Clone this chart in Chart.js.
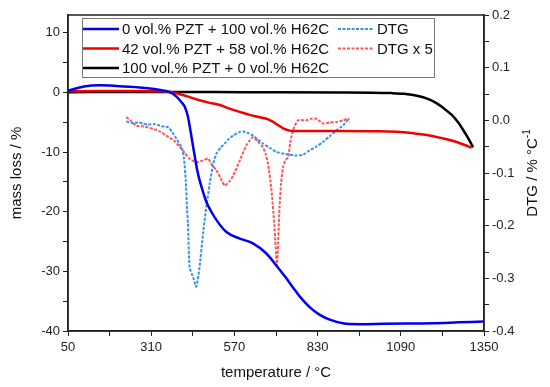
<!DOCTYPE html>
<html>
<head>
<meta charset="utf-8">
<script src="https://cdn.jsdelivr.net/npm/chart.js@4"></script>
<style>
  html, body { margin: 0; padding: 0; background: #fff; }
  #wrap { width: 550px; height: 387px; }
</style>
</head>
<body>
<div id="wrap"><canvas id="tgaChart" width="550" height="387"></canvas></div>
<script>
// mass loss curves (left axis, %)
const tempPzt0 = [50, 100, 149, 200, 274, 330, 368, 389, 404, 415, 425, 433, 441, 456, 467, 482, 498, 514, 545, 587, 628, 670, 701, 730, 753, 774, 805, 837, 868, 909, 960, 1034, 1110, 1190, 1270, 1350];
const massPzt0 = [0.3, 1.0, 1.2, 1.1, 0.85, 0.5, 0.05, -0.7, -1.6, -2.4, -4.1, -6.5, -9.1, -13.6, -15.8, -18.3, -20.0, -21.4, -23.4, -24.5, -25.3, -27.0, -29.0, -31.0, -32.7, -34.2, -36.0, -37.3, -38.1, -38.7, -38.85, -38.8, -38.75, -38.7, -38.55, -38.4];

const tempPzt42 = [50, 150, 250, 330, 378, 420, 461, 490, 524, 555, 590, 618, 650, 670, 685, 696, 710, 722, 740, 753, 800, 900, 1000, 1076, 1130, 1180, 1230, 1264, 1290, 1311];
const massPzt42 = [0.2, 0.25, 0.25, 0.2, 0.0, -0.6, -1.3, -1.7, -2.1, -2.7, -3.3, -3.75, -4.15, -4.4, -4.75, -5.1, -5.6, -6.0, -6.35, -6.45, -6.45, -6.45, -6.5, -6.6, -6.85, -7.2, -7.8, -8.3, -8.8, -9.3];

const tempPzt100 = [50, 300, 600, 900, 1000, 1060, 1100, 1133, 1160, 1180, 1200, 1217, 1232, 1250, 1269, 1284, 1300, 1316];
const massPzt100 = [0.05, 0.1, 0.05, 0.0, -0.02, -0.1, -0.22, -0.45, -0.8, -1.2, -1.75, -2.35, -3.0, -3.8, -5.0, -6.2, -7.6, -9.2];

// DTG curves (right axis, % / °C)
const tempDtg = [232, 250, 270, 284, 300, 320, 337, 352, 363, 375, 389, 404, 412, 418, 422, 425, 430, 441, 451, 461, 472, 482, 493, 503, 514, 527, 540, 553, 566, 587, 597, 612, 628, 643, 659, 680, 701, 730, 764, 785, 805, 826, 847, 868, 889, 905, 915, 925, 930];
const dtgPzt0 = [-0.002, -0.005, -0.004, -0.006, -0.008, -0.007, -0.01, -0.012, -0.013, -0.022, -0.035, -0.05, -0.07, -0.114, -0.168, -0.196, -0.279, -0.298, -0.316, -0.279, -0.215, -0.165, -0.12, -0.085, -0.063, -0.052, -0.044, -0.035, -0.029, -0.022, -0.021, -0.024, -0.029, -0.036, -0.044, -0.052, -0.06, -0.064, -0.067, -0.065, -0.057, -0.05, -0.041, -0.03, -0.019, -0.012, -0.006, 0.0, -0.004];

const tempDtg5 = [232, 245, 263, 290, 316, 340, 357, 380, 399, 415, 430, 445, 457, 472, 488, 500, 514, 527, 540, 553, 566, 587, 607, 618, 628, 643, 659, 668, 675, 686, 695, 703, 711, 716, 722, 730, 738, 745, 753, 769, 795, 810, 826, 847, 868, 889, 910, 925, 930];
const dtgPzt42x5 = [0.006, 0.0, -0.01, -0.012, -0.016, -0.022, -0.029, -0.038, -0.05, -0.062, -0.073, -0.078, -0.079, -0.076, -0.073, -0.085, -0.095, -0.11, -0.124, -0.117, -0.105, -0.076, -0.048, -0.038, -0.032, -0.04, -0.051, -0.065, -0.082, -0.133, -0.2, -0.276, -0.165, -0.12, -0.089, -0.075, -0.07, -0.04, -0.019, 0.0, 0.0, 0.003, 0.003, -0.006, -0.004, -0.003, 0.0, 0.003, 0.002];

const labels = [
  "0 vol.% PZT + 100 vol.% H62C",
  "42 vol.% PZT + 58 vol.% H62C",
  "100 vol.% PZT + 0 vol.% H62C",
  "DTG",
  "DTG x 5"
];

const FONT = "'Liberation Sans', Arial, sans-serif";
const AXIS = "#222";

function pts(xs, ys) {
  return xs.map((x, i) => ({ x: x, y: ys[i] }));
}

// box round the plot area, legend and right title
const extras = {
  id: "extras",
  afterDraw(chart) {
    const { ctx, chartArea: a, data } = chart;
    ctx.save();
    ctx.strokeStyle = AXIS;
    ctx.lineWidth = 1.5;
    ctx.strokeRect(a.left, a.top, a.right - a.left, a.bottom - a.top);

    // legend
    ctx.fillStyle = "#fff";
    ctx.fillRect(82, 18, 352, 59);
    ctx.strokeStyle = "#777";
    ctx.lineWidth = 1;
    ctx.strokeRect(82.5, 18.5, 352, 59);
    const spots = [[83, 29], [83, 48.5], [83, 68], [338, 29], [338, 48.5]];
    ctx.font = "15px " + FONT;
    ctx.textBaseline = "middle";
    data.datasets.forEach((ds, i) => {
      const [x, y] = spots[i];
      ctx.beginPath();
      ctx.setLineDash(ds.borderDash || []);
      ctx.strokeStyle = ds.borderColor;
      ctx.lineWidth = ds.borderWidth;
      ctx.moveTo(x, y);
      ctx.lineTo(x + 36, y);
      ctx.stroke();
      ctx.setLineDash([]);
      ctx.fillStyle = "#111";
      ctx.fillText(ds.label, x + 39, y + 1);
    });

    // right axis title with superscript
    ctx.translate(533, (a.top + a.bottom) / 2);
    ctx.rotate(-Math.PI / 2);
    const main = "DTG / % \u00B0C";
    ctx.font = "15px " + FONT;
    const w1 = ctx.measureText(main).width;
    ctx.font = "10px " + FONT;
    const w2 = ctx.measureText("-1").width;
    const x0 = -(w1 + w2) / 2;
    ctx.fillStyle = "#111";
    ctx.textAlign = "left";
    ctx.font = "15px " + FONT;
    ctx.fillText(main, x0, 0);
    ctx.font = "10px " + FONT;
    ctx.fillText("-1", x0 + w1, -6);
    ctx.restore();
  }
};

const gridOpts = {
  display: true,
  drawOnChartArea: false,
  drawTicks: true,
  tickLength: 5,
  color: AXIS,
  lineWidth: 1
};

new Chart(document.getElementById("tgaChart"), {
  type: "line",
  data: {
    datasets: [
      {
        label: labels[0],
        data: pts(tempPzt0, massPzt0),
        borderColor: "#0000ee",
        borderWidth: 2.5,
        cubicInterpolationMode: "monotone",
        yAxisID: "y"
      },
      {
        label: labels[1],
        data: pts(tempPzt42, massPzt42),
        borderColor: "#f20000",
        borderWidth: 2.5,
        cubicInterpolationMode: "monotone",
        yAxisID: "y"
      },
      {
        label: labels[2],
        data: pts(tempPzt100, massPzt100),
        borderColor: "#000000",
        borderWidth: 2.5,
        cubicInterpolationMode: "monotone",
        yAxisID: "y"
      },
      {
        label: labels[3],
        data: pts(tempDtg, dtgPzt0),
        borderColor: "#3592f0",
        borderWidth: 2,
        borderDash: [3, 1.5],
        tension: 0.2,
        yAxisID: "y1"
      },
      {
        label: labels[4],
        data: pts(tempDtg5, dtgPzt42x5),
        borderColor: "#ff5555",
        borderWidth: 2,
        borderDash: [3, 1.5],
        tension: 0.2,
        yAxisID: "y1"
      }
    ]
  },
  options: {
    responsive: false,
    animation: false,
    layout: { padding: { top: 15, left: 0, right: 0, bottom: 0 } },
    elements: { point: { radius: 0 }, line: { fill: false } },
    plugins: { legend: { display: false }, tooltip: { enabled: false } },
    scales: {
      x: {
        type: "linear",
        min: 50,
        max: 1350,
        grid: gridOpts,
        border: { display: true, color: AXIS, width: 1.5 },
        ticks: {
          stepSize: 130,
          autoSkip: false,
          maxRotation: 0,
          padding: 4,
          color: "#222",
          font: { family: FONT, size: 13 },
          callback: (v) => ((v - 50) % 260 === 0 ? String(v) : "")
        },
        title: {
          display: true,
          text: "temperature / \u00B0C",
          color: "#111",
          font: { family: FONT, size: 15 },
          padding: { top: 0, bottom: 5 }
        },
        afterFit: (s) => { s.height = 56; }
      },
      y: {
        position: "left",
        min: -40,
        max: 13,
        grid: gridOpts,
        border: { display: true, color: AXIS, width: 1.5 },
        ticks: {
          stepSize: 5,
          includeBounds: false,
          autoSkip: false,
          padding: 3,
          color: "#222",
          font: { family: FONT, size: 13 },
          callback: (v) => (v % 10 === 0 ? String(v) : "")
        },
        title: {
          display: true,
          text: "mass loss / %",
          color: "#111",
          font: { family: FONT, size: 15 },
          padding: { top: 8, bottom: 0 }
        },
        afterFit: (s) => { s.width = 68; }
      },
      y1: {
        position: "right",
        min: -0.4,
        max: 0.2,
        grid: gridOpts,
        border: { display: true, color: AXIS, width: 1.5 },
        ticks: {
          stepSize: 0.05,
          autoSkip: false,
          padding: 3,
          color: "#222",
          font: { family: FONT, size: 13 },
          callback: (v) => {
            const k = Math.round(v * 100);
            return k % 10 === 0 ? (k / 100).toFixed(1) : "";
          }
        },
        afterFit: (s) => { s.width = 66; }
      }
    }
  },
  plugins: [extras]
});
</script>
</body>
</html>
